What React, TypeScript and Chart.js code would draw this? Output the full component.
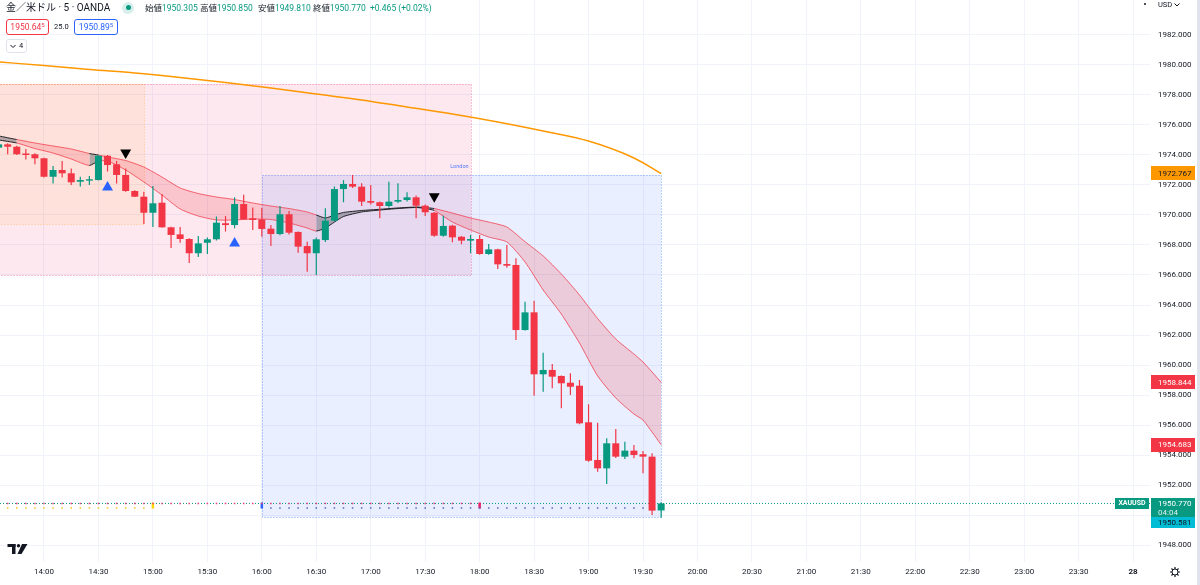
import React, { useEffect, useRef } from "react";
import { Chart, registerables } from "chart.js";

Chart.register(...registerables);

// ---------------- DATA ----------------
const candleTimes = [
  "13:35","13:40","13:45","13:50","13:55","14:00","14:05","14:10","14:15","14:20","14:25","14:30","14:35","14:40","14:45","14:50","14:55",
  "15:00","15:05","15:10","15:15","15:20","15:25","15:30","15:35","15:40","15:45","15:50","15:55",
  "16:00","16:05","16:10","16:15","16:20","16:25","16:30","16:35","16:40","16:45","16:50","16:55",
  "17:00","17:05","17:10","17:15","17:20","17:25","17:30","17:35","17:40","17:45","17:50","17:55",
  "18:00","18:05","18:10","18:15","18:20","18:25","18:30","18:35","18:40","18:45","18:50","18:55",
  "19:00","19:05","19:10","19:15","19:20","19:25","19:30","19:35","19:40",
];
const opens = [
  1974.49,1974.71,1974.55,1974.10,1974.05,1973.78,1972.55,1973.00,1972.78,1972.22,1972.29,1972.33,1973.95,1973.38,1972.67,1971.60,1971.22,
  1970.15,1970.82,1969.18,1968.71,1968.40,1967.45,1968.15,1968.38,1969.45,1969.33,1970.73,1969.78,
  1969.71,1969.09,1968.73,1970.05,1968.87,1967.93,1967.45,1968.33,1969.62,1971.73,1972.07,1971.89,
  1970.93,1970.85,1970.60,1970.89,1971.00,1971.18,1970.62,1970.15,1968.62,1969.29,1968.55,1968.29,
  1968.40,1967.40,1967.71,1966.73,1966.67,1962.33,1963.51,1959.38,1959.67,1959.27,1958.82,1958.62,
  1956.18,1953.67,1953.11,1954.78,1953.89,1954.29,1954.05,1953.89,1950.305,
];
const highs = [
  1974.85,1974.78,1974.62,1974.40,1974.12,1973.82,1973.27,1973.60,1973.10,1972.55,1972.60,1974.00,1974.00,1973.60,1973.10,1971.65,1971.55,
  1971.93,1971.40,1969.22,1969.20,1968.45,1968.60,1968.50,1969.90,1969.93,1971.18,1971.35,1970.50,
  1970.47,1969.33,1970.60,1970.27,1968.90,1968.22,1968.50,1970.45,1971.90,1972.33,1972.67,1972.11,
  1972.00,1970.90,1972.22,1972.11,1971.51,1971.30,1970.70,1970.20,1969.95,1969.35,1968.60,1968.67,
  1968.67,1968.07,1967.75,1968.00,1967.11,1964.22,1964.29,1960.82,1960.07,1959.30,1959.45,1959.00,
  1957.38,1956.15,1955.11,1955.73,1954.89,1954.67,1954.27,1954.11,1950.85,
];
const lows = [
  1974.40,1974.05,1974.00,1973.70,1973.38,1972.50,1972.10,1972.50,1972.00,1971.90,1972.00,1972.30,1972.90,1972.10,1971.55,1971.20,1969.40,
  1969.20,1969.15,1967.80,1968.15,1966.80,1967.20,1967.40,1968.30,1968.90,1969.11,1969.70,1969.00,
  1968.55,1967.93,1968.65,1968.70,1967.49,1966.22,1966.00,1968.20,1969.55,1970.85,1971.80,1970.60,
  1970.70,1969.78,1970.50,1970.80,1970.90,1969.78,1969.93,1968.55,1968.55,1968.18,1968.05,1967.45,
  1967.35,1967.35,1966.40,1966.49,1961.67,1962.30,1957.95,1958.22,1958.45,1957.11,1958.00,1956.05,
  1953.55,1952.89,1952.07,1953.80,1953.73,1953.78,1952.78,1950.00,1949.81,
];
const closes = [
  1974.71,1974.55,1974.05,1974.00,1973.78,1972.55,1973.00,1972.78,1972.18,1972.33,1972.38,1973.95,1973.33,1972.67,1971.60,1971.22,1970.15,
  1970.78,1969.18,1968.67,1968.40,1967.45,1968.11,1968.38,1969.49,1969.33,1970.73,1969.71,1969.67,
  1969.07,1968.73,1970.05,1968.82,1967.89,1967.45,1968.38,1969.62,1971.73,1972.07,1971.89,1970.89,
  1970.82,1970.60,1970.89,1971.00,1971.18,1970.62,1970.18,1968.62,1969.27,1968.51,1968.29,1968.40,
  1967.40,1967.71,1966.71,1966.62,1962.33,1963.51,1959.38,1959.67,1959.22,1958.78,1958.55,1956.11,
  1953.62,1953.11,1954.78,1953.89,1954.29,1954.00,1953.89,1950.29,1950.77,
];

const emaTimes = ["13:35","14:00","14:25","14:50","15:15","15:40","16:05","16:30","16:55","17:20","17:45","18:10","18:35","19:00","19:25","19:40"];
const emaValues = [1980.20,1979.97,1979.70,1979.47,1979.17,1978.83,1978.47,1978.07,1977.67,1977.20,1976.73,1976.20,1975.60,1974.93,1973.80,1972.767];

const bandTimes = [
  "13:35","13:45","13:55","14:05","14:15","14:25","14:30","14:35","14:45","14:55",
  "15:05","15:15","15:25","15:35","15:45","15:55",
  "16:05","16:15","16:25","16:30","16:35","16:40","16:45","16:55",
  "17:05","17:15","17:25","17:30","17:35","17:45","17:55",
  "18:05","18:15","18:25","18:35","18:45","18:55",
  "19:05","19:15","19:25","19:30","19:35","19:40",
];
const bandUpper = [
  1975.27,1975.03,1974.80,1974.60,1974.40,1974.10,1974.00,1973.87,1973.63,1973.20,
  1972.53,1971.80,1971.43,1971.20,1971.03,1970.80,
  1970.60,1970.43,1970.20,1970.00,1969.80,1970.00,1970.17,1970.30,
  1970.38,1970.47,1970.53,1970.50,1970.43,1970.13,1969.80,
  1969.53,1969.20,1968.22,1967.27,1966.07,1964.67,
  1963.10,1961.73,1960.73,1960.20,1959.53,1958.844,
];
const bandLower = [
  1975.00,1974.80,1974.43,1974.13,1973.73,1973.30,1973.60,1973.60,1973.00,1972.20,
  1971.33,1970.40,1969.93,1969.67,1969.67,1969.73,
  1969.70,1969.47,1969.13,1968.93,1969.13,1969.53,1969.90,1970.20,
  1970.33,1970.43,1970.50,1970.43,1970.30,1969.53,1969.00,
  1968.53,1968.20,1966.87,1965.00,1963.40,1961.47,
  1959.27,1957.80,1956.73,1956.33,1955.53,1954.683,
];
// trend state of the segment that starts at each band point: r = down (red), g = neutral (grey), k = flat (black)
const bandState = [
  "g","r","r","r","r","g","r","r","r","r",
  "r","r","r","r","r","r",
  "r","r","r","k","k","k","k","k",
  "k","k","k","k","r","r","r",
  "r","r","r","r","r","r",
  "r","r","r","r","r","r",
];

const buyTimes = ["14:35", "15:45"];
const buyPrices = [1971.85, 1968.11];
const sellTimes = ["14:45", "17:35"];
const sellPrices = [1974.15, 1971.24];

const boxStarts = ["12:00", "12:00", "16:00"];
const boxEnds = ["17:55", "14:55", "19:40"];
const boxTops = [1978.73, 1978.73, 1972.67];
const boxBottoms = [1966.0, 1969.4, 1949.87];
const boxLabel = "London";
const boxLabelTime = "17:55";
const boxLabelPrice = 1973.2;

const priceTicks = [1948,1950,1952,1954,1956,1958,1960,1962,1964,1966,1968,1970,1972,1974,1976,1978,1980,1982];
const axisTimes = ["14:00","14:30","15:00","15:30","16:00","16:30","17:00","17:30","18:00","18:30","19:00","19:30","20:00","20:30","21:00","21:30","22:00","22:30","23:00","23:30","24:00"];
const dayLabel = "28";

const title = "金／米ドル · 5 · OANDA";
const ohlcNames = ["始値", "高値", "安値", "終値"];
const changeText = "+0.465 (+0.02%)";
const bidText = "1950.64";
const askText = "1950.89";
const pipDigit = "5";
const spreadText = "25.0";
const indicatorCount = "4";
const currency = "USD";
const countdown = "04:04";
const secondaryPrice = 1950.581;
const symbol = "XAUUSD";

// ---------------- HELPERS / STYLE ----------------
const toMin = (t: string) => {
  const [h, m] = t.split(":").map(Number);
  return h * 60 + m;
};
const fmtTime = (v: number) => {
  if (v >= 1440) return dayLabel;
  const h = Math.floor(v / 60);
  const m = v % 60;
  return `${h}:${m < 10 ? "0" + m : m}`;
};

const X_MIN = 815.76;
const X_MAX = 1449.31;
const Y_MIN = 1946.867;
const Y_MAX = 1984.333;

const UP = "#089981";
const DOWN = "#f23645";
const TEXT = "#131722";
const FONT = "Roboto, 'Noto Sans CJK JP', sans-serif";

const BOX_FILLS = ["rgba(233,30,99,0.1)", "rgba(255,152,0,0.09)", "rgba(41,98,255,0.1)"];
const BOX_LINES = ["rgba(233,30,99,0.55)", "rgba(255,152,0,0.5)", "rgba(41,98,255,0.6)"];

const bandLineColor = (s: string) => (s === "r" ? "rgba(242,54,69,0.75)" : "rgba(20,20,25,0.9)");
const bandFillColor = (s: string) => (s === "r" ? "rgba(242,54,69,0.2)" : "rgba(90,92,100,0.45)");

const boxPlugin = {
  id: "sessionBoxes",
  beforeDatasetsDraw(chart: any) {
    const { ctx, chartArea: a, scales } = chart;
    const x = scales.x;
    const y = scales.y;
    ctx.save();
    ctx.beginPath();
    ctx.rect(a.left, a.top, a.right - a.left, a.bottom - a.top);
    ctx.clip();
    const rects = boxStarts.map((s, i) => ({
      x0: Math.round(x.getPixelForValue(toMin(s))),
      x1: Math.round(x.getPixelForValue(toMin(boxEnds[i]))),
      y0: Math.round(y.getPixelForValue(boxTops[i])),
      y1: Math.round(y.getPixelForValue(boxBottoms[i])),
    }));
    rects.forEach((r, i) => {
      ctx.fillStyle = BOX_FILLS[i];
      ctx.fillRect(r.x0, r.y0, r.x1 - r.x0, r.y1 - r.y0);
    });
    ctx.lineWidth = 1;
    ctx.setLineDash([1, 2]);
    rects.forEach((r, i) => {
      ctx.strokeStyle = BOX_LINES[i];
      ctx.strokeRect(r.x0 + 0.5, r.y0 + 0.5, r.x1 - r.x0, r.y1 - r.y0);
    });
    ctx.setLineDash([]);
    ctx.font = "5.5px Roboto";
    ctx.fillStyle = "rgba(41,98,255,0.8)";
    ctx.textAlign = "right";
    ctx.textBaseline = "middle";
    ctx.fillText(boxLabel, x.getPixelForValue(toMin(boxLabelTime)) - 2, y.getPixelForValue(boxLabelPrice));
    ctx.restore();
  },
};

const tagPlugin = {
  id: "priceTags",
  afterDraw(chart: any) {
    const { ctx, chartArea: a, scales } = chart;
    const y = scales.y;
    const L = a.right + 1;
    const W = 44;
    ctx.save();
    ctx.font = "8px Roboto";
    ctx.textBaseline = "middle";
    ctx.textAlign = "left";
    const tag = (v: number, bg: string, fg: string) => {
      const yc = y.getPixelForValue(v);
      ctx.fillStyle = bg;
      ctx.fillRect(L, Math.round(yc) - 7, W, 14);
      ctx.fillStyle = fg;
      ctx.fillText(v.toFixed(3), L + 7, yc + 0.5);
    };
    tag(emaValues[emaValues.length - 1], "#ff9800", TEXT);
    tag(bandUpper[bandUpper.length - 1], DOWN, "#ffffff");
    tag(bandLower[bandLower.length - 1], DOWN, "#ffffff");

    const last = closes[closes.length - 1];
    const yc = Math.round(y.getPixelForValue(last));
    ctx.fillStyle = UP;
    ctx.fillRect(L, yc - 5, W, 19);
    ctx.fillStyle = "#ffffff";
    ctx.fillText(last.toFixed(3), L + 7, yc + 0.5);
    ctx.fillStyle = "rgba(255,255,255,0.85)";
    ctx.fillText(countdown, L + 7, yc + 9.5);
    ctx.fillStyle = "#00bcd4";
    ctx.fillRect(L, yc + 14, W, 11);
    ctx.fillStyle = TEXT;
    ctx.fillText(secondaryPrice.toFixed(3), L + 7, yc + 20);

    ctx.fillStyle = UP;
    ctx.fillRect(a.right - 35, yc - 5, 34, 11);
    ctx.fillStyle = "#ffffff";
    ctx.textAlign = "center";
    ctx.font = "bold 7px Roboto";
    ctx.fillText(symbol, a.right - 18, yc + 0.5);
    ctx.restore();
  },
};

export default function App() {
  const ref = useRef<HTMLCanvasElement | null>(null);

  useEffect(() => {
    const canvas = ref.current;
    if (!canvas) return;
    const xs = candleTimes.map(toMin);
    const colors = closes.map((c, i) => (c >= opens[i] ? UP : DOWN));
    const wickData = xs.map((x, i) => ({ x, y: [lows[i], highs[i]] }));
    const bodyData = xs.map((x, i) => ({ x, y: [opens[i], closes[i]] }));
    const last = closes[closes.length - 1];

    const asiaMarks = candleTimes.filter((t) => toMin(t) < toMin("18:00"));
    const tokyoMarks = candleTimes.filter((t) => toMin(t) < toMin("15:00"));
    const londonMarks = candleTimes.filter((t) => toMin(t) > toMin("16:00") && toMin(t) < toMin("19:40"));
    const sessionEdgeTimes = ["15:00", "16:00", "18:00"];
    const sessionEdgeColors = ["#ffd600", "#2962ff", "#e91e63"];

    const chart = new Chart(canvas, {
      type: "bar",
      data: {
        datasets: [
          {
            type: "line",
            data: bandTimes.map((t, i) => ({ x: toMin(t), y: bandUpper[i] })),
            borderColor: "rgba(242,54,69,0.75)",
            borderWidth: 1,
            pointRadius: 0,
            fill: false,
            tension: 0.2,
            order: 20,
            segment: {
              borderColor: (c: any) => bandLineColor(bandState[c.p0DataIndex]),
            },
          } as any,
          {
            type: "line",
            data: bandTimes.map((t, i) => ({ x: toMin(t), y: bandLower[i] })),
            borderColor: "rgba(242,54,69,0.75)",
            backgroundColor: "rgba(242,54,69,0.2)",
            borderWidth: 1,
            pointRadius: 0,
            fill: "-1",
            tension: 0.2,
            order: 20,
            segment: {
              borderColor: (c: any) => bandLineColor(bandState[c.p0DataIndex]),
              backgroundColor: (c: any) => bandFillColor(bandState[c.p0DataIndex]),
            },
          } as any,
          {
            type: "line",
            data: emaTimes.map((t, i) => ({ x: toMin(t), y: emaValues[i] })),
            borderColor: "#ff9800",
            borderWidth: 1.5,
            pointRadius: 0,
            fill: false,
            cubicInterpolationMode: "monotone",
            order: 15,
          } as any,
          {
            type: "line",
            data: [
              { x: X_MIN, y: last },
              { x: X_MAX, y: last },
            ],
            borderColor: UP,
            borderWidth: 1,
            borderDash: [1, 2],
            pointRadius: 0,
            fill: false,
            order: 14,
          } as any,
          {
            type: "line",
            data: asiaMarks.map((t) => ({ x: toMin(t), y: last })),
            showLine: false,
            pointStyle: "rect",
            pointRadius: 1.1,
            pointBorderWidth: 0,
            backgroundColor: "#ec407a",
            pointBackgroundColor: "#ec407a",
            order: 13,
          } as any,
          {
            type: "line",
            data: tokyoMarks.map((t) => ({ x: toMin(t), y: 1950.47 })),
            showLine: false,
            pointStyle: "rect",
            pointRadius: 1.1,
            pointBorderWidth: 0,
            backgroundColor: "#fbc02d",
            pointBackgroundColor: "#fbc02d",
            order: 13,
          } as any,
          {
            type: "line",
            data: londonMarks.map((t) => ({ x: toMin(t), y: 1950.47 })),
            showLine: false,
            pointStyle: "rect",
            pointRadius: 1.1,
            pointBorderWidth: 0,
            backgroundColor: "#5c6bc0",
            pointBackgroundColor: "#5c6bc0",
            order: 13,
          } as any,
          {
            type: "line",
            data: sessionEdgeTimes.map((t) => ({ x: toMin(t), y: 1950.63 })),
            showLine: false,
            pointStyle: "line",
            pointRotation: 90,
            pointRadius: 3,
            pointBorderWidth: 2.5,
            borderColor: sessionEdgeColors,
            pointBorderColor: sessionEdgeColors,
            order: 13,
          } as any,
          {
            data: wickData,
            backgroundColor: colors,
            barThickness: 1.2,
            grouped: false,
            inflateAmount: 0,
            borderWidth: 0,
            order: 5,
          } as any,
          {
            data: bodyData,
            backgroundColor: colors,
            barThickness: 7,
            grouped: false,
            inflateAmount: 0,
            borderWidth: 0,
            minBarLength: 1,
            order: 4,
          } as any,
          {
            type: "line",
            data: buyTimes.map((t, i) => ({ x: toMin(t), y: buyPrices[i] })),
            showLine: false,
            pointStyle: "triangle",
            pointRadius: 6.3,
            pointBorderWidth: 0,
            backgroundColor: "#2962ff",
            pointBackgroundColor: "#2962ff",
            order: 1,
          } as any,
          {
            type: "line",
            data: sellTimes.map((t, i) => ({ x: toMin(t), y: sellPrices[i] })),
            showLine: false,
            pointStyle: "triangle",
            pointRotation: 180,
            pointRadius: 6.3,
            pointBorderWidth: 0,
            backgroundColor: "#000000",
            pointBackgroundColor: "#000000",
            order: 1,
          } as any,
        ],
      },
      options: {
        responsive: false,
        animation: false,
        devicePixelRatio: 1,
        events: [],
        layout: { padding: 0, autoPadding: false },
        plugins: {
          legend: { display: false },
          tooltip: { enabled: false },
        },
        scales: {
          x: {
            type: "linear",
            min: X_MIN,
            max: X_MAX,
            offset: false,
            grid: { color: "#f0f3fa", drawTicks: false, offset: false, lineWidth: 1 },
            border: { display: false },
            afterBuildTicks: (s: any) => {
              s.ticks = axisTimes.map((t) => ({ value: toMin(t) }));
            },
            afterFit: (s: any) => {
              s.height = 23;
              s.paddingLeft = 0;
              s.paddingRight = 0;
            },
            ticks: {
              autoSkip: false,
              maxRotation: 0,
              padding: 5,
              color: TEXT,
              font: (c: any) => ({
                family: "Roboto",
                size: 8,
                weight: c.tick && c.tick.value >= 1440 ? "bold" : "normal",
              }),
              callback: (v: any) => fmtTime(Number(v)),
            },
          },
          y: {
            type: "linear",
            position: "right",
            min: Y_MIN,
            max: Y_MAX,
            grid: { color: "#f0f3fa", drawTicks: false, lineWidth: 1 },
            border: { display: false },
            afterBuildTicks: (s: any) => {
              s.ticks = priceTicks.map((v) => ({ value: v }));
            },
            afterFit: (s: any) => {
              s.width = 50;
              s.paddingTop = 0;
              s.paddingBottom = 0;
            },
            ticks: {
              padding: 8,
              color: TEXT,
              font: { family: "Roboto", size: 8 },
              callback: (v: any) => Number(v).toFixed(3),
            },
          },
        },
      } as any,
      plugins: [boxPlugin, tagPlugin],
    } as any);

    return () => chart.destroy();
  }, []);

  const n = closes.length - 1;
  const ohlcVals = [opens[n], highs[n], lows[n], closes[n]].map((v) => v.toFixed(3));
  const ohlcX = [145, 200, 258, 313];

  const abs = (style: any) => ({ position: "absolute" as const, whiteSpace: "nowrap" as const, ...style });

  return (
    <div
      style={{
        position: "fixed",
        left: 0,
        top: 0,
        width: 1200,
        height: 585,
        overflow: "hidden",
        background: "#ffffff",
        fontFamily: FONT,
        color: TEXT,
      }}
    >
      <canvas ref={ref} width={1200} height={585} style={{ display: "block", width: 1200, height: 585 }} />

      {/* legend row 1 */}
      <div style={abs({ left: 6, top: 1, fontSize: 10, lineHeight: "13px" })}>{title}</div>
      <div style={abs({ left: 122, top: 1.5, width: 12, height: 12, borderRadius: 6, background: "rgba(8,153,129,0.16)" })} />
      <div style={abs({ left: 125.5, top: 5, width: 5, height: 5, borderRadius: 3, background: UP })} />
      {ohlcNames.map((nm, i) => (
        <div key={nm} style={abs({ left: ohlcX[i], top: 2.5, fontSize: 8.5, lineHeight: "11px" })}>
          {nm}
          <span style={{ color: UP }}>{ohlcVals[i]}</span>
        </div>
      ))}
      <div style={abs({ left: 370, top: 2.5, fontSize: 8.5, lineHeight: "11px", color: UP })}>{changeText}</div>

      {/* legend row 2 */}
      <div
        style={abs({
          left: 6,
          top: 19,
          width: 43,
          height: 16,
          boxSizing: "border-box",
          border: `1px solid ${DOWN}`,
          borderRadius: 3,
          color: DOWN,
          fontSize: 8.5,
          lineHeight: "14px",
          textAlign: "center",
          background: "#fff",
        })}
      >
        {bidText}
        <span style={{ fontSize: 6, verticalAlign: "top", lineHeight: "10px" }}>{pipDigit}</span>
      </div>
      <div style={abs({ left: 54, top: 21, fontSize: 7.5, lineHeight: "12px" })}>{spreadText}</div>
      <div
        style={abs({
          left: 74,
          top: 19,
          width: 44,
          height: 16,
          boxSizing: "border-box",
          border: "1px solid #2962ff",
          borderRadius: 3,
          color: "#2962ff",
          fontSize: 8.5,
          lineHeight: "14px",
          textAlign: "center",
          background: "#fff",
        })}
      >
        {askText}
        <span style={{ fontSize: 6, verticalAlign: "top", lineHeight: "10px" }}>{pipDigit}</span>
      </div>

      {/* legend row 3 */}
      <div
        style={abs({
          left: 6,
          top: 39,
          width: 21,
          height: 14,
          boxSizing: "border-box",
          border: "1px solid #e0e3eb",
          borderRadius: 3,
          background: "#fff",
          fontSize: 7.5,
          lineHeight: "12px",
        })}
      >
        <svg width="6" height="5" style={{ position: "absolute", left: 3, top: 4 }}>
          <polyline points="0.5,1 3,3.5 5.5,1" fill="none" stroke={TEXT} strokeWidth="1" />
        </svg>
        <span style={{ position: "absolute", left: 12, top: 0 }}>{indicatorCount}</span>
      </div>

      {/* price axis header */}
      <div style={abs({ left: 1143.5, top: 3, width: 2, height: 2, borderRadius: 1, background: TEXT })} />
      <div style={abs({ left: 1158, top: 0, fontSize: 7.5, lineHeight: "10px" })}>
        {currency}
        <svg width="6" height="4" style={{ marginLeft: 1.5, verticalAlign: "middle" }}>
          <polyline points="0.5,0.5 3,3 5.5,0.5" fill="none" stroke={TEXT} strokeWidth="1" />
        </svg>
      </div>
      <div style={abs({ left: 1197, top: 0, width: 3, height: 585, background: "#e0e3eb" })} />

      {/* TradingView logo */}
      <svg width="22" height="11" style={{ position: "absolute", left: 7, top: 544 }}>
        <rect x="0.5" y="0" width="8" height="3" fill={TEXT} />
        <rect x="5" y="0" width="3.5" height="10" fill={TEXT} />
        <circle cx="11.5" cy="1.7" r="1.7" fill={TEXT} />
        <polygon points="15,0 20.5,0 14.5,10 10.5,10" fill={TEXT} />
      </svg>

      {/* settings gear */}
      <svg width="12" height="12" style={{ position: "absolute", left: 1169, top: 566 }}>
        <circle cx="6" cy="6" r="3" fill="none" stroke={TEXT} strokeWidth="1" />
        {[0, 45, 90, 135, 180, 225, 270, 315].map((a) => (
          <line
            key={a}
            x1={6 + Math.cos((a * Math.PI) / 180) * 3}
            y1={6 + Math.sin((a * Math.PI) / 180) * 3}
            x2={6 + Math.cos((a * Math.PI) / 180) * 5}
            y2={6 + Math.sin((a * Math.PI) / 180) * 5}
            stroke={TEXT}
            strokeWidth="1.2"
          />
        ))}
      </svg>
    </div>
  );
}
